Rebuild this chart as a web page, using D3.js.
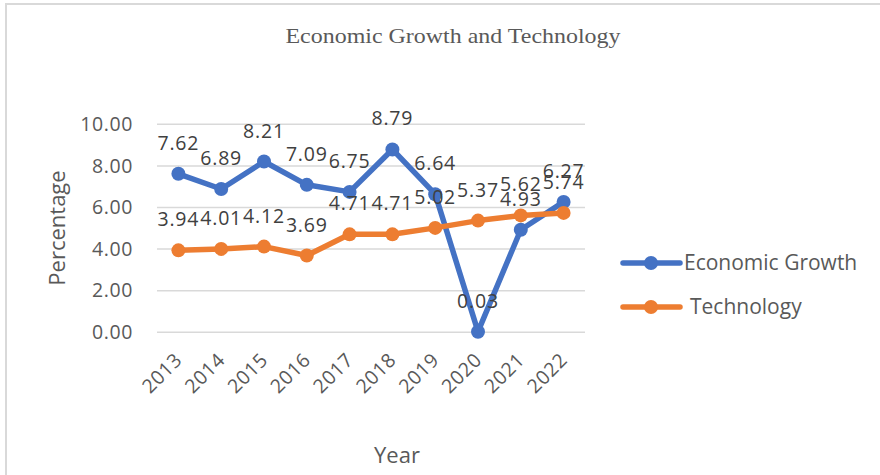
<!DOCTYPE html>
<html>
<head>
<meta charset="utf-8">
<script src="https://cdn.jsdelivr.net/npm/d3@7"></script>
<style>
  body { margin: 0; background: #fff; }
  text { font-family: "Open Sans", sans-serif; fill: #595959; }
</style>
</head>
<body>
<svg width="880" height="475"></svg>
<script>
const years = ["2013", "2014", "2015", "2016", "2017", "2018", "2019", "2020", "2021", "2022"];
const growth = [7.62, 6.89, 8.21, 7.09, 6.75, 8.79, 6.64, 0.03, 4.93, 6.27];
const technology = [3.94, 4.01, 4.12, 3.69, 4.71, 4.71, 5.02, 5.37, 5.62, 5.74];
const yTicks = [0, 2, 4, 6, 8, 10];
const seriesNames = ["Economic Growth", "Technology"];
const seriesColors = ["#4472C4", "#ED7D31"];

const svg = d3.select("svg");

// chart frame (right and bottom edges run off the picture)
svg.append("rect")
    .attr("x", 6).attr("y", 4)
    .attr("width", 900).attr("height", 500)
    .attr("fill", "none")
    .attr("stroke", "#d9d9d9")
    .attr("stroke-width", 2);

const x = d3.scaleBand().domain(years).range([157, 585]);
const y = d3.scaleLinear().domain([0, 10]).range([332.3, 124.3]);
const cx = d => x(d) + x.bandwidth() / 2;

// title
svg.append("text")
    .attr("x", 453).attr("y", 43)
    .attr("text-anchor", "middle")
    .style("font-family", "'Liberation Serif', serif")
    .style("font-size", "22px")
    .attr("textLength", 335)
    .attr("lengthAdjust", "spacingAndGlyphs")
    .text("Economic Growth and Technology");

// gridlines
svg.append("g")
    .selectAll("line")
    .data(yTicks)
    .enter()
    .append("line")
    .attr("x1", 157).attr("x2", 585)
    .attr("y1", d => y(d)).attr("y2", d => y(d))
    .attr("stroke", "#d9d9d9")
    .attr("stroke-width", 1.5);

// y axis labels
const yAxis = svg.append("g")
    .attr("transform", "translate(157,0)")
    .call(d3.axisLeft(y).tickValues(yTicks).tickFormat(d3.format(".2f")).tickSize(0).tickPadding(24));
yAxis.select(".domain").remove();
yAxis.selectAll("text")
    .style("font-family", "'Open Sans', sans-serif")
    .style("font-size", "19.5px")
    .style("letter-spacing", "0.6px")
    .attr("fill", "#595959");

// x axis labels, rotated
const xAxis = svg.append("g")
    .attr("transform", "translate(0,332.3)")
    .call(d3.axisBottom(x).tickSize(0).tickPadding(0));
xAxis.select(".domain").remove();
xAxis.selectAll("text")
    .style("font-family", "'Open Sans', sans-serif")
    .style("font-size", "19.5px")
    .style("letter-spacing", "0.6px")
    .attr("fill", "#595959")
    .attr("text-anchor", "end")
    .attr("dy", "0")
    .attr("transform", "translate(5,29) rotate(-45)");

// axis titles
svg.append("text")
    .attr("transform", "translate(65,228) rotate(-90)")
    .attr("text-anchor", "middle")
    .style("font-size", "22px")
    .text("Percentage");

svg.append("text")
    .attr("x", 397).attr("y", 463)
    .attr("text-anchor", "middle")
    .style("font-size", "22px")
    .text("Year");

// series
const series = [growth, technology];
const line = d3.line().x((d, i) => cx(years[i])).y(d => y(d));

series.forEach((vals, s) => {
    const g = svg.append("g");
    g.append("path")
        .datum(vals)
        .attr("d", line)
        .attr("fill", "none")
        .attr("stroke", seriesColors[s])
        .attr("stroke-width", 5.5)
        .attr("stroke-linejoin", "round");
    g.selectAll("circle")
        .data(vals)
        .enter()
        .append("circle")
        .attr("cx", (d, i) => cx(years[i]))
        .attr("cy", d => y(d))
        .attr("r", 7)
        .attr("fill", seriesColors[s]);
});

// data labels
series.forEach(vals => {
    svg.append("g")
        .selectAll("text")
        .data(vals)
        .enter()
        .append("text")
        .attr("x", (d, i) => cx(years[i]))
        .attr("y", d => y(d) - 24)
        .attr("text-anchor", "middle")
        .style("font-size", "19.5px")
        .style("letter-spacing", "0.8px")
        .style("fill", "#404040")
        .text(d => d.toFixed(2));
});

// legend
const legend = svg.append("g")
    .selectAll("g")
    .data(seriesNames)
    .enter()
    .append("g")
    .attr("transform", (d, i) => `translate(623,${263 + i * 44})`);
legend.append("line")
    .attr("x1", 0).attr("x2", 57)
    .attr("stroke", (d, i) => seriesColors[i])
    .attr("stroke-width", 5.5)
    .attr("stroke-linecap", "round");
legend.append("circle")
    .attr("cx", 28).attr("r", 7)
    .attr("fill", (d, i) => seriesColors[i]);
legend.append("text")
    .attr("x", (d, i) => i === 0 ? 61 : 67)
    .attr("y", 7)
    .style("font-size", "21px")
    .text(d => d);
</script>
</body>
</html>
